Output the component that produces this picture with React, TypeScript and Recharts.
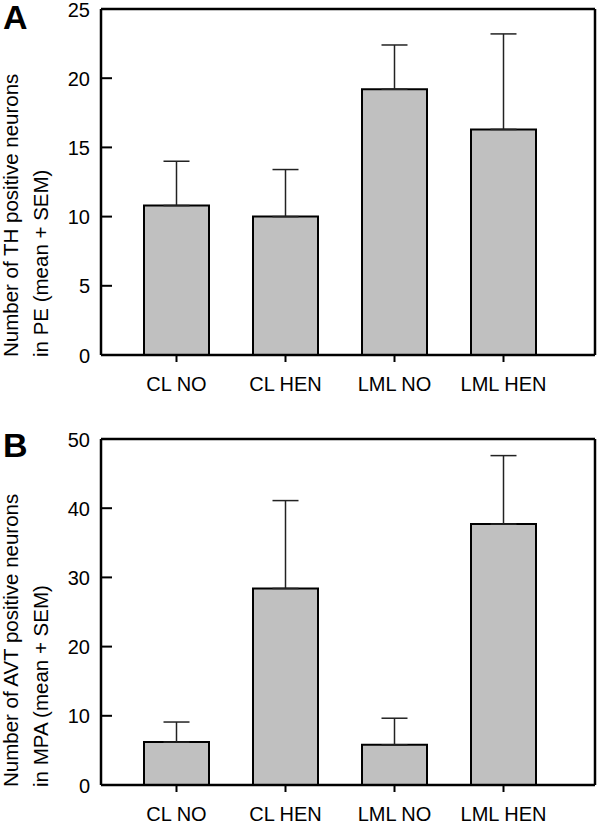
import React from "react";
import { BarChart, Bar, XAxis, YAxis, ErrorBar, Label } from "recharts";

const categories = ["CL NO", "CL HEN", "LML NO", "LML HEN"];

// panel A: TH positive neurons in PE
const thMean = [10.8, 10.0, 19.2, 16.3];
const thSem = [3.2, 3.4, 3.2, 6.9];
const thTicks = [0, 5, 10, 15, 20, 25];

// panel B: AVT positive neurons in MPA
const avtMean = [6.2, 28.4, 5.8, 37.7];
const avtSem = [2.9, 12.7, 3.85, 9.9];
const avtTicks = [0, 10, 20, 30, 40, 50];

const FONT = "'Liberation Sans', Arial, sans-serif";

const YTick = (props: any) => {
  const { x, y, payload } = props;
  return (
    <g>
      <line x1={x + 11} x2={x + 22} y1={y} y2={y} stroke="#000" strokeWidth={2} />
      <text x={x} y={y} dy="0.38em" textAnchor="end" fontSize={20} fontFamily={FONT} fill="#000">
        {payload.value}
      </text>
    </g>
  );
};

// two-line axis title, both lines start at the bottom of the plot
const YLabel = (props: any) => {
  const { viewBox, lines } = props;
  const y0 = viewBox.y + viewBox.height + 2;
  const xs = [11, 41];
  return (
    <g>
      {lines.map((t: string, i: number) => (
        <text
          key={i}
          transform={`translate(${xs[i]} ${y0}) rotate(-90)`}
          textAnchor="start"
          dy="0.36em"
          fontSize={20.5}
          fontFamily={FONT}
          fill="#000"
        >
          {t}
        </text>
      ))}
    </g>
  );
};

type PanelProps = {
  mean: number[];
  sem: number[];
  ticks: number[];
  lines: string[];
  height: number;
};

function Panel({ mean, sem, ticks, lines, height }: PanelProps) {
  const data = categories.map((name, i) => ({
    name,
    mean: mean[i],
    err: [0, sem[i]],
  }));
  const max = ticks[ticks.length - 1];
  const frame = { stroke: "#000", strokeWidth: 2.5 };
  return (
    <BarChart
      width={600}
      height={height}
      data={data}
      margin={{ top: 8, right: 4, left: 100, bottom: height - 355 - 40 }}
      style={{ overflow: "visible" }}
    >
      <XAxis
        dataKey="name"
        height={40}
        padding={{ left: 21, right: 37 }}
        axisLine={frame}
        tickLine={{ stroke: "#000", strokeWidth: 2 }}
        tickSize={7}
        tickMargin={15}
        tick={{ fontSize: 20, fontFamily: FONT, fill: "#000" }}
        interval={0}
      />
      <XAxis
        xAxisId="top"
        dataKey="name"
        orientation="top"
        height={1}
        axisLine={frame}
        tick={false}
        tickLine={false}
      />
      <YAxis
        width={1}
        domain={[0, max]}
        ticks={ticks}
        interval={0}
        axisLine={frame}
        tickLine={false}
        tickSize={0}
        tickMargin={11}
        tick={(p: any) => <YTick {...p} />}
      >
        <Label content={(p: any) => <YLabel {...p} lines={lines} />} />
      </YAxis>
      <YAxis
        yAxisId="right"
        orientation="right"
        width={1}
        domain={[0, max]}
        axisLine={frame}
        tick={false}
        tickLine={false}
      />
      <Bar
        dataKey="mean"
        fill="#c0c0c0"
        stroke="#000"
        strokeWidth={2}
        barSize={65}
        isAnimationActive={false}
      >
        <ErrorBar dataKey="err" width={13} stroke="#222" strokeWidth={1.5} isAnimationActive={false} />
      </Bar>
    </BarChart>
  );
}

const letterStyle: React.CSSProperties = {
  position: "absolute",
  left: 3,
  fontFamily: FONT,
  fontWeight: "bold",
  fontSize: 34,
  lineHeight: "34px",
};

export default function App() {
  return (
    <div style={{ position: "absolute", left: 0, top: 0, width: 600, height: 824, background: "#fff" }}>
      <div style={{ position: "absolute", left: 0, top: 0 }}>
        <Panel
          mean={thMean}
          sem={thSem}
          ticks={thTicks}
          lines={["Number of TH positive neurons", "in PE (mean + SEM)"]}
          height={430}
        />
      </div>
      <div style={{ position: "absolute", left: 0, top: 430 }}>
        <Panel
          mean={avtMean}
          sem={avtSem}
          ticks={avtTicks}
          lines={["Number of AVT positive neurons", "in MPA (mean + SEM)"]}
          height={394}
        />
      </div>
      <div style={{ ...letterStyle, top: 0 }}>A</div>
      <div style={{ ...letterStyle, top: 428 }}>B</div>
    </div>
  );
}
